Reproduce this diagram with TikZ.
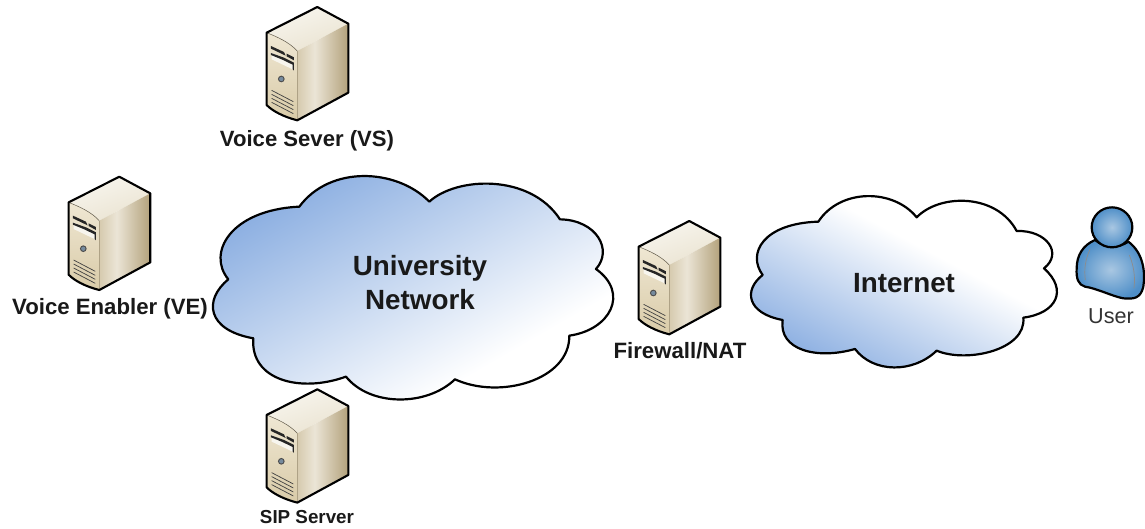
\documentclass[tikz,border=0pt]{standalone}
\usepackage{fontspec}
\setmainfont{Liberation Sans}
\definecolor{cloudblue}{HTML}{7FA6DE}
\definecolor{tanA}{HTML}{D6CAAE}
\definecolor{tanB}{HTML}{EBE5D6}
\definecolor{tanC}{HTML}{B3A17B}
\definecolor{frontA}{HTML}{EFE7D3}
\definecolor{frontB}{HTML}{D9CBA8}
\definecolor{topA}{HTML}{F8F6EF}
\definecolor{topB}{HTML}{EAE3D1}
\definecolor{userblue}{HTML}{4F8FC8}
\definecolor{userlight}{HTML}{A9C7E2}
\pgfdeclareverticalshading{cloudfade}{100bp}{color(0bp)=(white); color(33bp)=(white); color(78bp)=(cloudblue); color(100bp)=(cloudblue)}
\pgfdeclareverticalshading{cloudfadeb}{100bp}{color(0bp)=(cloudblue); color(22bp)=(cloudblue); color(58bp)=(white); color(100bp)=(white)}
\pgfdeclarehorizontalshading{sidefade}{100bp}{color(0bp)=(tanA); color(25bp)=(tanA); color(42bp)=(tanB); color(75bp)=(tanC); color(100bp)=(tanC)}
\tikzset{
  cloudline/.style={draw=black,line width=2.2pt,line join=round},
  srvline/.style={draw=black,line width=2.1pt,line join=round},
  biglabel/.style={font=\fontsize{27.8}{34}\selectfont\bfseries,align=center,text=black!90,inner sep=0pt},
  srvlabel/.style={inner sep=0pt,text=black!90},
  serverbox/.pic={
    \begin{scope}[x=0.3333pt,y=-0.3333pt]
      \shade[left color=topA,right color=topB,shading angle=20]
        (0,0) -- (93,50) -- (-60,132) .. controls (-85,105) and (-120,90) .. (-152,77) -- cycle;
      \shade[shading=sidefade]
        (93,50) -- (93,257) -- (-60,340) -- (-60,132) -- cycle;
      \shade[top color=frontA,bottom color=frontB]
        (-152,77) .. controls (-120,90) and (-85,105) .. (-60,132) -- (-60,340) .. controls (-100,330) and (-135,312) .. (-152,294) -- cycle;
      \draw[black!55!frontB,line width=.5pt] (-152,77) .. controls (-120,90) and (-85,105) .. (-60,132);
      \draw[black!20!frontB,line width=.5pt] (-60,132) -- (-60,340);
      \draw[srvline] (0,0) -- (93,50) -- (93,257) -- (-60,340) .. controls (-100,330) and (-135,312) .. (-152,294) -- (-152,77) -- cycle;
      % drive bays
      \fill[black!85] (-139,117) -- (-100,135) -- (-95,146) -- (-139,125) -- cycle;
      \fill[black!85] (-92,140) -- (-70,151) -- (-70,160) -- (-92,148) -- cycle;
      \fill[white!80!frontB] (-137,137) -- (-72,170) -- (-72,188) -- (-137,157) -- cycle;
      \fill[black!85] (-139,138) -- (-100,152) -- (-70,167) -- (-70,191) -- (-74,187) -- (-74,173) -- (-105,158) -- (-139,144) -- cycle;
      % button
      \fill[black!70] (-108,216) circle[radius=10];
      \fill[black!30!userlight] (-108,216) circle[radius=6.5];
      % vents
      \foreach \dy in {0,12,24,36}
        \draw[black!75,line width=.7pt] (-137,250+\dy) -- (-72,284+\dy);
    \end{scope}
  }
}
\begin{document}
\begin{tikzpicture}[x=1pt,y=-1pt]
\useasboundingbox[fill=white] (0,0) rectangle (1145,529);
% University cloud
\begin{scope}[xshift=200pt,yshift=-160pt,x=0.3333pt,y=-0.3333pt]
  \path[cloudline,shading=cloudfade,shading angle=30]
    (85,358) .. controls (20,280) and (90,150) .. (298,140)
    .. controls (390,15) and (590,25) .. (688,125)
    .. controls (770,50) and (990,40) .. (1080,178)
    .. controls (1190,180) and (1240,270) .. (1188,327)
    .. controls (1290,400) and (1230,510) .. (1108,527)
    .. controls (1110,660) and (900,720) .. (765,658)
    .. controls (680,740) and (510,740) .. (438,650)
    .. controls (300,700) and (150,660) .. (160,535)
    .. controls (20,510) and (10,420) .. (85,358) -- cycle;
\end{scope}
% Internet cloud
\begin{scope}[xshift=740pt,yshift=-180pt,x=0.3333pt,y=-0.3333pt]
  \path[cloudline,shading=cloudfadeb,shading angle=-28]
    (68,285) .. controls (20,220) and (70,130) .. (235,125)
    .. controls (300,25) and (460,25) .. (530,112)
    .. controls (600,40) and (770,40) .. (830,153)
    .. controls (920,150) and (970,220) .. (912,265)
    .. controls (985,330) and (950,400) .. (850,413)
    .. controls (860,510) and (680,550) .. (590,512)
    .. controls (520,580) and (400,580) .. (345,507)
    .. controls (230,540) and (115,510) .. (128,420)
    .. controls (20,400) and (10,330) .. (68,285) -- cycle;
\end{scope}
% Servers
\pic (vs) at (317.3,7) {serverbox};
\pic (ve) at (119.3,176.7) {serverbox};
\pic (fw) at (689.3,221) {serverbox};
\pic (sip) at (317.3,389.3) {serverbox};
% User
\begin{scope}[xshift=1060pt,yshift=-190pt,x=0.3333pt,y=-0.3333pt]
  \path[draw=black,line width=2.2pt,line join=round,inner color=userlight,outer color=userblue]
    (105,150) .. controls (70,165) and (50,195) .. (50,235)
    .. controls (48,265) and (55,285) .. (75,290)
    .. controls (110,295) and (160,320) .. (190,325)
    .. controls (222,328) and (242,325) .. (250,290)
    .. controls (256,250) and (252,190) .. (205,155)
    .. controls (175,175) and (135,175) .. (105,150) -- cycle;
  \draw[black!45,line width=.7pt] (90,178) .. controls (75,210) and (72,240) .. (76,270);
  \draw[black!45,line width=.7pt] (208,195) .. controls (222,230) and (226,260) .. (222,295);
  \path[draw=black,line width=2.2pt,inner color=userlight,outer color=userblue]
    (156,112) ellipse[x radius=61,y radius=60];
\end{scope}
% Labels
\node[biglabel] (un) at (420,283) {University\\Network};
\node[biglabel] (in) at (904,283) {Internet};
\node[srvlabel,font=\fontsize{22.1}{26}\selectfont\bfseries] (vsl) at (307,141) {Voice Sever (VS)};
\node[srvlabel,font=\fontsize{22.2}{26}\selectfont\bfseries] (vel) at (110,309) {Voice Enabler (VE)};
\node[srvlabel,font=\fontsize{22.2}{26}\selectfont\bfseries] (fwl) at (680,351) {Firewall/NAT};
\node[srvlabel,font=\fontsize{18.8}{22}\selectfont\bfseries] (sipl) at (307,517) {SIP Server};
\node[srvlabel,font=\fontsize{21.6}{26}\selectfont,text=black!80] (usr) at (1111,316) {User};
\end{tikzpicture}
\end{document}
